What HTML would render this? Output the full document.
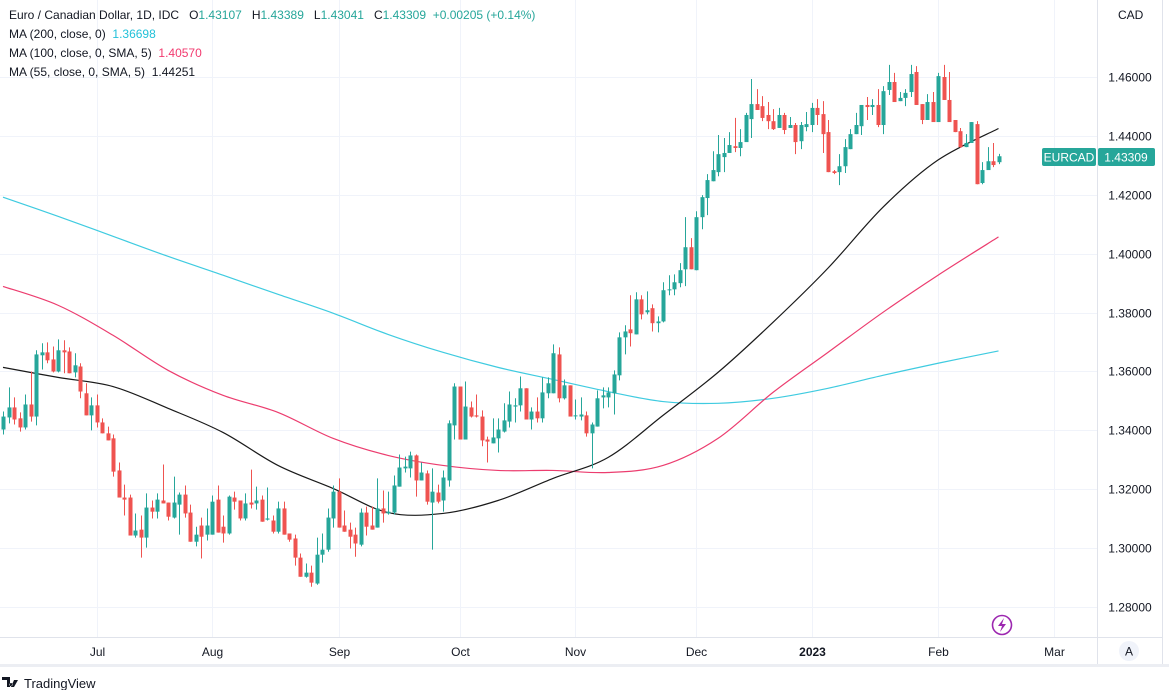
<!DOCTYPE html>
<html><head><meta charset="utf-8">
<style>
html,body{margin:0;padding:0;background:#fff;width:1169px;height:690px;overflow:hidden;font-family:"Liberation Sans","DejaVu Sans",sans-serif;}
svg{position:absolute;left:0;top:0}
</style></head>
<body>
<svg id="chart" width="1169" height="690">
  <rect x="0" y="0" width="1169" height="690" fill="#fff"/>
  <g id="grid"></g>
  <g id="mas"></g>
  <g id="candles"></g>
  <line x1="1097.5" y1="0" x2="1097.5" y2="665" stroke="#e0e3eb"/>
  <line x1="1162.5" y1="0" x2="1162.5" y2="665" stroke="#e0e3eb"/>
  <line x1="0" y1="637.5" x2="1162" y2="637.5" stroke="#e0e3eb"/>
  <rect x="0" y="664" width="1169" height="3" fill="#eceef3"/>
  <g id="yaxis"></g>
  <g id="xaxis"></g>
  <text x="1118" y="19" font-size="12" fill="#131722">CAD</text>
  <g>
    <rect x="1042" y="148" width="54" height="18" rx="2" fill="#26a69a"/>
    <text x="1069" y="161.5" font-size="12" fill="#fff" text-anchor="middle">EURCAD</text>
    <rect x="1098" y="148" width="57" height="18" rx="2" fill="#26a69a"/>
    <text x="1126" y="161.5" font-size="12" fill="#fff" text-anchor="middle">1.43309</text>
  </g>
  <g font-size="12" fill="#131722" xml:space="preserve">
    <text x="9" y="19" xml:space="preserve">Euro / Canadian Dollar, 1D, IDC   O<tspan fill="#26a69a">1.43107</tspan>   H<tspan fill="#26a69a">1.43389</tspan>   L<tspan fill="#26a69a">1.43041</tspan>   C<tspan fill="#26a69a">1.43309</tspan>  <tspan fill="#26a69a">+0.00205 (+0.14%)</tspan></text>
    <text x="9" y="38" xml:space="preserve">MA (200, close, 0)  <tspan fill="#22c1d9">1.36698</tspan></text>
    <text x="9" y="57" xml:space="preserve">MA (100, close, 0, SMA, 5)  <tspan fill="#f23a6f">1.40570</tspan></text>
    <text x="9" y="76" xml:space="preserve">MA (55, close, 0, SMA, 5)  1.44251</text>
  </g>
  <g>
    <circle cx="1002" cy="625" r="9.5" fill="none" stroke="#9c27b0" stroke-width="1.6"/>
    <path d="M1004 618 L998 626 L1002 626 L1000 632 L1006 624 L1002 624 Z" fill="#9c27b0"/>
  </g>
  <g>
    <circle cx="1129" cy="651" r="10" fill="#f0f3fa"/>
    <text x="1129" y="655.5" font-size="12" fill="#131722" text-anchor="middle">A</text>
  </g>
  <g>
    <path d="M2 677 h8 v10 h-3 v-7 h-5 z M11 683 a1.6 1.6 0 1 0 0.01 0 z M14 680 h4 l-4 7 h-3 z" fill="#131722"/>
    <text x="24" y="688" font-size="13" fill="#131722">TradingView</text>
  </g>
</svg>
<script>
const opens=[1.3403,1.3444,1.3478,1.3441,1.3410,1.3488,1.3447,1.3655,1.3665,1.3641,1.3600,1.3672,1.3668,1.3597,1.3617,1.3526,1.3451,1.3485,1.3427,1.3390,1.3373,1.3264,1.3172,1.3172,1.3043,1.3063,1.3036,1.3138,1.3124,1.3162,1.3155,1.3104,1.3148,1.3182,1.3121,1.3022,1.3077,1.3046,1.3046,1.3165,1.3073,1.3050,1.3172,1.3162,1.3101,1.3155,1.3152,1.3165,1.3097,1.3094,1.3056,1.3135,1.3050,1.3033,1.2968,1.2903,1.2917,1.2880,1.2978,1.2995,1.3101,1.3192,1.3077,1.3063,1.3046,1.3012,1.3121,1.3077,1.3070,1.3135,1.3118,1.3121,1.3209,1.3271,1.3271,1.3315,1.3230,1.3254,1.3155,1.3189,1.3162,1.3230,1.3417,1.3549,1.3369,1.3478,1.3451,1.3447,1.3369,1.3356,1.3373,1.3396,1.3430,1.3481,1.3485,1.3543,1.3437,1.3464,1.3441,1.3526,1.3526,1.3658,1.3509,1.3553,1.3451,1.3447,1.3451,1.3390,1.3413,1.3512,1.3512,1.3526,1.3587,1.3716,1.3743,1.3726,1.3845,1.3801,1.3815,1.3764,1.3770,1.3876,1.3879,1.3900,1.3947,1.4022,1.3944,1.4124,1.4189,1.4246,1.4277,1.4328,1.4342,1.4365,1.4359,1.4379,1.4457,1.4508,1.4501,1.4471,1.4450,1.4427,1.4471,1.4427,1.4437,1.4382,1.4430,1.4437,1.4495,1.4474,1.4413,1.4280,1.4277,1.4297,1.4355,1.4406,1.4433,1.4505,1.4498,1.4505,1.4437,1.4556,1.4583,1.4518,1.4529,1.4549,1.4617,1.4508,1.4454,1.4515,1.4447,1.4600,1.4522,1.4454,1.4416,1.4362,1.4376,1.4440,1.4240,1.4284,1.4314,1.43107];
const highs=[1.3464,1.3546,1.3512,1.3461,1.3522,1.3600,1.3672,1.3696,1.3699,1.3685,1.3709,1.3706,1.3682,1.3662,1.3628,1.3560,1.3512,1.3522,1.3441,1.3413,1.3386,1.3291,1.3216,1.3182,1.3118,1.3111,1.3186,1.3162,1.3186,1.3284,1.3155,1.3243,1.3189,1.3213,1.3148,1.3073,1.3104,1.3135,1.3179,1.3213,1.3111,1.3179,1.3192,1.3162,1.3186,1.3267,1.3209,1.3179,1.3206,1.3111,1.3158,1.3158,1.3050,1.3046,1.2982,1.2948,1.2941,1.3036,1.3050,1.3135,1.3213,1.3237,1.3128,1.3087,1.3070,1.3135,1.3141,1.3141,1.3237,1.3196,1.3192,1.3247,1.3318,1.3311,1.3328,1.3318,1.3291,1.3264,1.3271,1.3216,1.3264,1.3434,1.3560,1.3549,1.3566,1.3498,1.3522,1.3468,1.3379,1.3441,1.3441,1.3492,1.3532,1.3509,1.3583,1.3543,1.3478,1.3512,1.3580,1.3580,1.3692,1.3682,1.3573,1.3553,1.3505,1.3512,1.3464,1.3427,1.3536,1.3546,1.3546,1.3604,1.3733,1.3757,1.3859,1.3869,1.3859,1.3872,1.3828,1.3787,1.3903,1.3927,1.3930,1.3968,1.4124,1.4053,1.4144,1.4199,1.4270,1.4348,1.4403,1.4393,1.4413,1.4461,1.4423,1.4478,1.4593,1.4559,1.4535,1.4515,1.4491,1.4495,1.4478,1.4464,1.4444,1.4447,1.4481,1.4512,1.4525,1.4518,1.4454,1.4284,1.4338,1.4389,1.4423,1.4478,1.4505,1.4532,1.4525,1.4559,1.4569,1.4641,1.4614,1.4549,1.4559,1.4641,1.4637,1.4508,1.4542,1.4549,1.4614,1.4641,1.4617,1.4454,1.4427,1.4406,1.4447,1.4450,1.4311,1.4362,1.4376,1.43389];
const lows=[1.3386,1.3424,1.3420,1.3396,1.3403,1.3430,1.3417,1.3607,1.3628,1.3597,1.3597,1.3594,1.3594,1.3580,1.3509,1.3451,1.3400,1.3410,1.3390,1.3366,1.3243,1.3172,1.3111,1.3043,1.3036,1.2968,1.3002,1.3101,1.3101,1.3152,1.3094,1.3101,1.3046,1.3104,1.3022,1.3006,1.2965,1.3026,1.3046,1.3053,1.3019,1.3046,1.3131,1.3094,1.3094,1.3135,1.3131,1.3090,1.3094,1.3050,1.3050,1.3046,1.3022,1.2941,1.2903,1.2900,1.2869,1.2876,1.2951,1.2988,1.3070,1.3070,1.3056,1.2999,1.2971,1.3006,1.3043,1.3063,1.3070,1.3087,1.3114,1.3114,1.3209,1.3257,1.3240,1.3175,1.3230,1.3148,1.2995,1.3152,1.3124,1.3209,1.3369,1.3369,1.3369,1.3444,1.3444,1.3346,1.3291,1.3356,1.3325,1.3393,1.3410,1.3427,1.3464,1.3437,1.3403,1.3427,1.3427,1.3509,1.3526,1.3495,1.3505,1.3447,1.3437,1.3434,1.3379,1.3271,1.3413,1.3475,1.3478,1.3454,1.3570,1.3658,1.3685,1.3726,1.3777,1.3794,1.3736,1.3733,1.3767,1.3859,1.3859,1.3886,1.3890,1.3947,1.3944,1.4083,1.4131,1.4246,1.4263,1.4277,1.4342,1.4345,1.4331,1.4393,1.4393,1.4488,1.4450,1.4423,1.4420,1.4427,1.4406,1.4427,1.4338,1.4355,1.4416,1.4413,1.4437,1.4342,1.4277,1.4270,1.4233,1.4274,1.4355,1.4406,1.4403,1.4454,1.4471,1.4430,1.4406,1.4539,1.4515,1.4518,1.4501,1.4532,1.4505,1.4440,1.4454,1.4447,1.4447,1.4522,1.4447,1.4413,1.4359,1.4362,1.4389,1.4236,1.4236,1.4284,1.4294,1.43041];
const closes=[1.3447,1.3478,1.3437,1.3410,1.3488,1.3447,1.3658,1.3665,1.3638,1.3600,1.3672,1.3665,1.3594,1.3621,1.3532,1.3451,1.3485,1.3427,1.3390,1.3366,1.3260,1.3172,1.3165,1.3043,1.3060,1.3036,1.3138,1.3124,1.3165,1.3152,1.3107,1.3155,1.3182,1.3118,1.3022,1.3046,1.3039,1.3077,1.3158,1.3053,1.3050,1.3175,1.3158,1.3101,1.3152,1.3148,1.3162,1.3090,1.3101,1.3056,1.3135,1.3046,1.3029,1.2968,1.2903,1.2917,1.2883,1.2978,1.2995,1.3104,1.3192,1.3070,1.3056,1.3039,1.3016,1.3121,1.3073,1.3063,1.3135,1.3118,1.3124,1.3213,1.3274,1.3277,1.3315,1.3230,1.3257,1.3158,1.3192,1.3158,1.3240,1.3424,1.3549,1.3369,1.3481,1.3447,1.3447,1.3366,1.3362,1.3376,1.3403,1.3434,1.3488,1.3485,1.3543,1.3437,1.3464,1.3441,1.3529,1.3560,1.3662,1.3509,1.3553,1.3447,1.3451,1.3454,1.3390,1.3420,1.3509,1.3519,1.3529,1.3590,1.3716,1.3736,1.3730,1.3845,1.3794,1.3808,1.3764,1.3770,1.3876,1.3879,1.3903,1.3944,1.4022,1.3947,1.4124,1.4192,1.4250,1.4284,1.4338,1.4342,1.4369,1.4359,1.4379,1.4471,1.4508,1.4488,1.4461,1.4450,1.4423,1.4471,1.4420,1.4437,1.4379,1.4437,1.4440,1.4495,1.4471,1.4406,1.4277,1.4274,1.4297,1.4362,1.4406,1.4437,1.4505,1.4498,1.4505,1.4437,1.4552,1.4583,1.4515,1.4529,1.4546,1.4610,1.4505,1.4454,1.4515,1.4447,1.4603,1.4522,1.4447,1.4413,1.4362,1.4376,1.4447,1.4236,1.4284,1.4314,1.4301,1.43309];
const maIdx=[0,10,20,30,40,50,60,70,80,90,100,110,120,130,140,150,160,170,181];
const ma200=[1.4192,1.4127,1.4059,1.3991,1.3927,1.3862,1.3798,1.3726,1.3665,1.3614,1.3573,1.3532,1.3498,1.3492,1.3509,1.3543,1.3587,1.3628,1.36698];
const ma100=[1.3889,1.3825,1.3723,1.3604,1.3519,1.3461,1.3373,1.3315,1.3281,1.3264,1.3264,1.3257,1.3281,1.3373,1.3529,1.3665,1.3801,1.3927,1.40570];
const ma55=[1.3614,1.3580,1.3549,1.3475,1.3393,1.3281,1.3203,1.3121,1.3118,1.3162,1.3237,1.3308,1.3451,1.3597,1.3767,1.3951,1.4158,1.4318,1.44251];
const priceTicks=[1.28,1.30,1.32,1.34,1.36,1.38,1.40,1.42,1.44,1.46];
const monthLabels=["Jul","Aug","Sep","Oct","Nov","Dec","2023","Feb","Mar"];
const monthBars=[17,38,61,83,104,126,147,170,191];

const NS="http://www.w3.org/2000/svg";
function xS(i){return 3+5.5*i;}
function yS(p){return 77+(1.46-p)*2945;}
function mk(tag,attrs,parent){const e=document.createElementNS(NS,tag);for(const k in attrs)e.setAttribute(k,attrs[k]);parent.appendChild(e);return e;}
const grid=document.getElementById('grid'),yaxis=document.getElementById('yaxis'),xaxis=document.getElementById('xaxis');
priceTicks.forEach(p=>{
  const y=Math.round(yS(p))+0.5;
  const l=mk('line',{x1:0,x2:1097,y1:y,y2:y,stroke:'#f0f3fa'},grid);
  
  
  const t=mk('text',{x:1130,y:y+4,'font-size':12,fill:'#131722','text-anchor':'middle'},yaxis);
  t.textContent=p.toFixed(5);
  
  
});
monthLabels.forEach((m,k)=>{
  const x=Math.round(xS(monthBars[k]))+0.5;
  const l=mk('line',{x1:x,x2:x,y1:0,y2:637,stroke:'#f0f3fa'},grid);
  
  
  const t=mk('text',{x:x,y:656,'font-size':12,fill:'#131722','text-anchor':'middle','font-weight':m==='2023'?'bold':'normal'},xaxis);
  t.textContent=m;
  
  
});
const mas=document.getElementById('mas');
function smooth(vals,color,name){
  const pts=maIdx.map((i,k)=>[xS(i),yS(vals[k])]);
  let d='M'+pts[0][0]+' '+pts[0][1];
  for(let k=0;k<pts.length-1;k++){
    const p0=pts[Math.max(0,k-1)],p1=pts[k],p2=pts[k+1],p3=pts[Math.min(pts.length-1,k+2)];
    const c1=[p1[0]+(p2[0]-p0[0])/6,p1[1]+(p2[1]-p0[1])/6],c2=[p2[0]-(p3[0]-p1[0])/6,p2[1]-(p3[1]-p1[1])/6];
    d+=' C'+c1[0]+' '+c1[1]+' '+c2[0]+' '+c2[1]+' '+p2[0]+' '+p2[1];
  }
  const e=mk('path',{d:d,fill:'none',stroke:color,'stroke-width':1.2},mas);
  
  
}
smooth(ma200,'#3fcbe0','ma200-line');
smooth(ma100,'#ec3d6f','ma100-line');
smooth(ma55,'#1a1a1a','ma55-line');
const cg=document.getElementById('candles');
closes.forEach((c,i)=>{
  const o=opens[i],h=highs[i],l=lows[i];
  const up=c>=o,col=up?'#26a69a':'#ef5350';
  const x=Math.round(xS(i));
  const g=mk('g',{},cg);
  
  
  mk('line',{x1:x+0.5,x2:x+0.5,y1:yS(h),y2:yS(l),stroke:col,'stroke-width':1},g);
  const top=yS(Math.max(o,c)),bot=yS(Math.min(o,c));
  mk('rect',{x:x-1.5,y:top,width:4,height:Math.max(1,bot-top),fill:col},g);
});
</script>
</body></html>
